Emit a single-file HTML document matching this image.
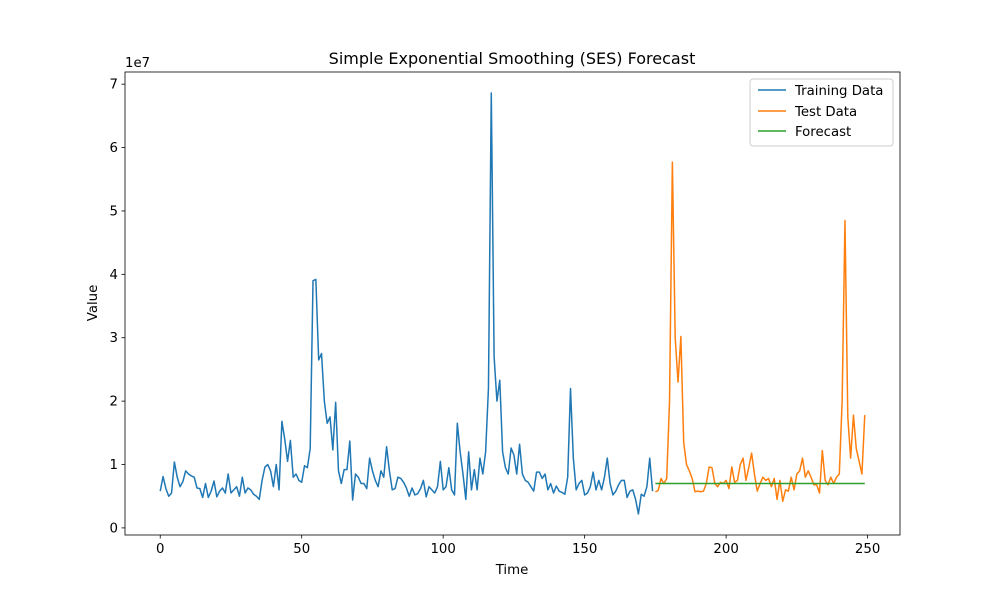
<!DOCTYPE html>
<html><head><meta charset="utf-8"><style>
body{margin:0;background:#fff}
svg{font-family:"DejaVu Sans","Liberation Sans",sans-serif}
</style></head><body>
<svg id="chart" width="1000" height="600"></svg>
<script>
const trainValues=[5.8,8.1,6.2,5.0,5.5,10.4,8.0,6.5,7.3,9.0,8.5,8.2,8.0,6.3,6.2,4.8,7.0,4.8,5.8,7.4,4.9,5.8,6.3,5.5,8.5,5.5,6.0,6.5,5.0,8.0,5.5,6.3,6.0,5.3,5.0,4.5,7.5,9.6,10.0,9.0,6.5,10.0,6.0,16.8,14.0,10.5,13.8,8.0,8.5,7.5,7.2,9.8,9.5,12.5,39.0,39.2,26.5,27.5,20.0,16.5,17.5,12.3,19.8,9.0,7.0,9.2,9.2,13.7,4.4,8.5,8.0,7.0,7.0,6.2,11.0,9.0,7.5,6.5,9.0,8.0,12.8,9.0,6.0,6.2,8.0,7.8,7.2,6.3,5.0,6.3,5.2,5.4,6.2,7.5,4.9,6.5,6.0,5.5,6.5,10.5,6.0,6.5,9.5,6.0,5.2,16.5,12.0,8.5,4.5,12.0,6.0,9.2,6.0,11.0,8.5,12.0,22.0,68.6,27.0,20.0,23.3,12.0,9.5,8.5,12.6,11.5,8.5,13.2,8.5,7.5,7.2,6.5,5.8,8.8,8.8,7.8,8.5,6.0,7.0,5.5,6.6,5.8,5.6,5.3,8.0,22.0,11.0,6.0,7.0,7.5,5.2,5.5,6.5,8.8,6.0,7.5,6.0,8.0,11.0,7.0,5.2,5.8,6.8,7.5,7.5,4.8,5.8,6.0,4.5,2.2,5.3,5.0,6.5,11.0,5.8];
const testValues=[5.7,5.9,7.8,7.0,7.8,20.0,57.7,30.0,23.0,30.2,13.5,10.0,9.0,7.8,5.7,5.8,5.7,5.8,7.0,9.6,9.5,7.0,6.5,7.2,7.0,7.5,6.2,9.6,7.2,7.5,10.0,11.0,7.5,9.5,11.8,8.5,5.8,7.0,8.0,7.5,7.8,6.5,7.8,4.5,7.5,4.2,6.0,5.8,8.0,6.0,8.5,9.0,11.0,8.0,9.0,8.0,6.8,6.8,5.5,12.2,7.5,6.8,8.0,7.0,8.0,8.5,20.0,48.5,17.5,11.0,17.8,12.5,10.5,8.5,17.8];
const forecastValue=7.0;
const testStart=175;
const xTicks=[0,50,100,150,200,250];
const yTicks=[0,1,2,3,4,5,6,7];

const NS="http://www.w3.org/2000/svg";
const svg=document.getElementById('chart');
const L=125,R=900,T=72,B=535;
const total=trainValues.length+testValues.length;
const allV=trainValues.concat(testValues);
const xmin=0,xmax=total-1,xpad=(xmax-xmin)*0.05;
const vmin=Math.min(...allV,forecastValue),vmax=Math.max(...allV,forecastValue),ypad=(vmax-vmin)*0.05;
const X=v=>L+(v-(xmin-xpad))/((xmax+xpad)-(xmin-xpad))*(R-L);
const Y=v=>B-(v-(vmin-ypad))/((vmax+ypad)-(vmin-ypad))*(B-T);
function el(tag,attrs,txt){const e=document.createElementNS(NS,tag);for(const k in attrs)e.setAttribute(k,attrs[k]);if(txt!==undefined)e.textContent=txt;svg.appendChild(e);return e;}

function line(vals,start,color,name){
  const d=vals.map((v,i)=>(i?'L':'M')+X(start+i).toFixed(2)+','+Y(v).toFixed(2)).join('');
  const p=el('path',{d:d,fill:'none',stroke:color,'stroke-width':1.5,'stroke-linejoin':'round'});
  
  
}
line(trainValues,0,'#1f77b4','training-data-line');
line(testValues,testStart,'#ff7f0e','test-data-line');
const fl=el('line',{x1:X(testStart),x2:X(total-1),y1:Y(forecastValue),y2:Y(forecastValue),stroke:'#2ca02c','stroke-width':1.5});



const frame=el('rect',{x:L,y:T,width:R-L,height:B-T,fill:'none',stroke:'#000','stroke-width':0.8});



xTicks.forEach(t=>{
  el('line',{x1:X(t),x2:X(t),y1:B,y2:B+3.5,stroke:'#000','stroke-width':0.8});
  const tx=el('text',{x:X(t),y:B+18,'text-anchor':'middle','font-size':'13.3px'},t);
  
  
});
yTicks.forEach(t=>{
  el('line',{x1:L-3.5,x2:L,y1:Y(t*10),y2:Y(t*10),stroke:'#000','stroke-width':0.8});
  const tx=el('text',{x:L-7,y:Y(t*10)+4.5,'text-anchor':'end','font-size':'13.3px'},t);
  
  
});
</script>
<svg width="1000" height="600" style="position:absolute;left:0;top:0;pointer-events:none">
<text x="125" y="67" font-size="13.3px">1e7</text>
<text x="512" y="64" text-anchor="middle" font-size="16px">Simple Exponential Smoothing (SES) Forecast</text>
<text x="512" y="574" text-anchor="middle" font-size="13.3px">Time</text>
<text transform="translate(97,303) rotate(-90)" text-anchor="middle" font-size="13.3px">Value</text>
<g>
<rect x="750" y="79" width="143" height="67" rx="3" fill="#fff" fill-opacity="0.8" stroke="#ccc"/>
<line x1="758" x2="786" y1="90" y2="90" stroke="#1f77b4" stroke-width="1.5"/>
<text x="795" y="95" font-size="13.3px">Training Data</text>
<line x1="758" x2="786" y1="111" y2="111" stroke="#ff7f0e" stroke-width="1.5"/>
<text x="795" y="116" font-size="13.3px">Test Data</text>
<line x1="758" x2="786" y1="131" y2="131" stroke="#2ca02c" stroke-width="1.5"/>
<text x="795" y="136" font-size="13.3px">Forecast</text>
</g>
</svg>
</body></html>
